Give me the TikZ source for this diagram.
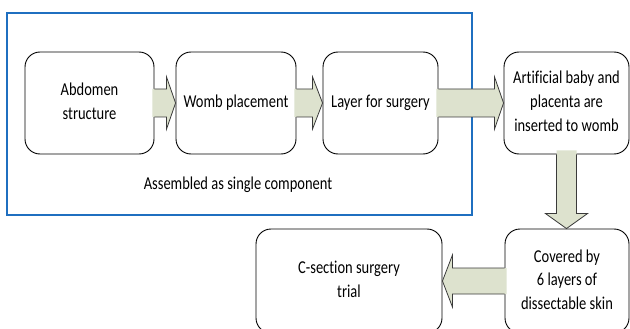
\documentclass[tikz,border=0pt]{standalone}
\usepackage{fontspec}
\usepackage{graphicx}
\setmainfont{Carlito}[Ligatures=NoCommon]
\usetikzlibrary{calc}
\definecolor{frameblue}{HTML}{1F6FC0}
\definecolor{arrowfill}{HTML}{DDE2CE}
\definecolor{arrowline}{HTML}{3A3A3A}
\newcommand\tx[1]{\scalebox{1}[1.25]{\fontsize{14.5}{19}\selectfont\begin{tabular}{@{}c@{}}#1\end{tabular}}}
\tikzset{
  stepbox/.style={draw=black, line width=0.9pt, rounded corners=15pt, fill=white, align=center, inner sep=2pt},
  arrowedge/.style={draw=arrowline, line width=0.8pt, line join=miter}
}
\newcommand\blockR[5]{%
  \fill[arrowfill] let \p1=(#1), \p2=(#2) in (\x1-2pt,\y1+#3) -- (\x2-#5,\y1+#3) -- (\x2-#5,\y1+#4) -- (\x2,\y1) -- (\x2-#5,\y1-#4) -- (\x2-#5,\y1-#3) -- (\x1-2pt,\y1-#3) -- cycle;
  \draw[arrowedge] let \p1=(#1), \p2=(#2) in (\x1,\y1+#3) -- (\x2-#5,\y1+#3) -- (\x2-#5,\y1+#4) -- (\x2,\y1) -- (\x2-#5,\y1-#4) -- (\x2-#5,\y1-#3) -- (\x1,\y1-#3);}
\newcommand\blockL[5]{%
  \fill[arrowfill] let \p1=(#1), \p2=(#2) in (\x1+2pt,\y1+#3) -- (\x2+#5,\y1+#3) -- (\x2+#5,\y1+#4) -- (\x2,\y1) -- (\x2+#5,\y1-#4) -- (\x2+#5,\y1-#3) -- (\x1+2pt,\y1-#3) -- cycle;
  \draw[arrowedge] let \p1=(#1), \p2=(#2) in (\x1,\y1+#3) -- (\x2+#5,\y1+#3) -- (\x2+#5,\y1+#4) -- (\x2,\y1) -- (\x2+#5,\y1-#4) -- (\x2+#5,\y1-#3) -- (\x1,\y1-#3);}
\newcommand\blockD[5]{%
  \fill[arrowfill] let \p1=(#1), \p2=(#2) in (\x1+#3,\y1+4pt) -- (\x1+#3,\y2+#5) -- (\x1+#4,\y2+#5) -- (\x1,\y2) -- (\x1-#4,\y2+#5) -- (\x1-#3,\y2+#5) -- (\x1-#3,\y1+4pt) -- cycle;
  \draw[arrowedge] let \p1=(#1), \p2=(#2) in (\x1+#3,\y1) -- (\x1+#3,\y2+#5) -- (\x1+#4,\y2+#5) -- (\x1,\y2) -- (\x1-#4,\y2+#5) -- (\x1-#3,\y2+#5) -- (\x1-#3,\y1);}
\begin{document}
\begin{tikzpicture}[x=1pt,y=-1pt]
\useasboundingbox (0,0) rectangle (630,329);
\draw[frameblue, line width=2pt] (7,13) rectangle (472,215);
\node[stepbox, minimum width=129pt, minimum height=102pt] (b1) at (89.5,103) {\tx{Abdomen\\structure}};
\node[stepbox, minimum width=120pt, minimum height=102pt] (b2) at (236,103) {\tx{Womb placement}};
\node[stepbox, minimum width=115pt, minimum height=102pt] (b3) at (380.5,103) {\tx{Layer for surgery}};
\node[stepbox, minimum width=125pt, minimum height=102pt] (b4) at (566.5,103) {\tx{Artificial baby and\\placenta are\\inserted to womb}};
\node[stepbox, minimum width=124pt, minimum height=104pt] (b5) at (567,281) {\tx{Covered by\\6 layers of\\dissectable skin}};
\node[stepbox, minimum width=186pt, minimum height=104pt] (b6) at (349,281) {\tx{C-section surgery\\trial}};
\node (lab) at (238,185) {\tx{Assembled as single component}};
\blockR{b1.east}{b2.west}{14pt}{26pt}{9pt}
\blockR{b2.east}{b3.west}{14pt}{26pt}{10pt}
\blockR{b3.east}{b4.west}{14pt}{26pt}{9pt}
\blockD{b4.south}{b5.north}{10pt}{21pt}{15pt}
\blockL{b5.west}{b6.east}{13pt}{26pt}{10pt}
\end{tikzpicture}
\end{document}
